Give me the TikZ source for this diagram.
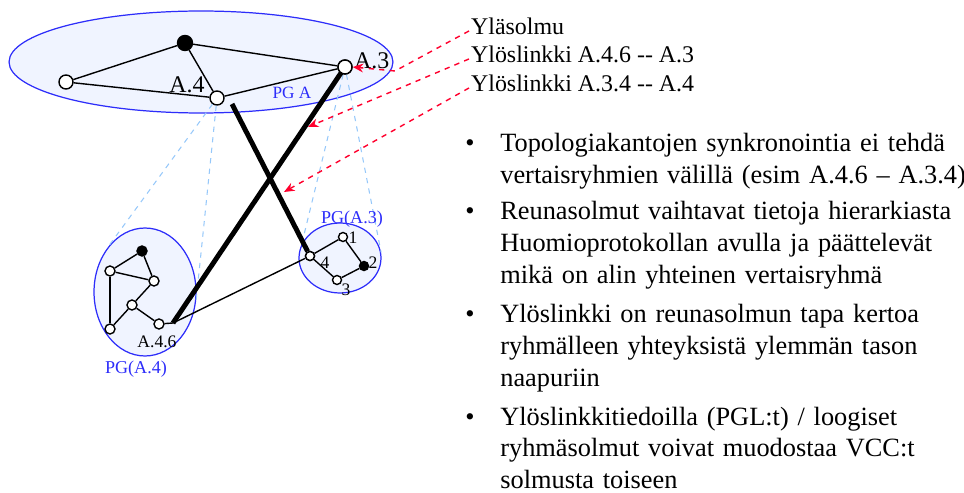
\documentclass[tikz,border=0pt]{standalone}
\usepackage{fontspec}
\setmainfont{Liberation Serif}
\usetikzlibrary{positioning,shapes.geometric,arrows.meta}

\definecolor{pgfill}{RGB}{240,244,255}
\definecolor{pgline}{RGB}{45,45,250}
\definecolor{projline}{RGB}{150,200,250}
\definecolor{notered}{RGB}{255,0,45}

\tikzset{
  pgroup/.style={draw=pgline, fill=pgfill, ellipse, line width=0.7pt, inner sep=0pt},
  wnode/.style={circle, draw, fill=white, line width=0.8pt, inner sep=0pt, minimum size=0.28cm},
  bnode/.style={wnode, fill=black},
  snode/.style={wnode, minimum size=0.2cm},
  sbnode/.style={snode, fill=black},
  link/.style={line width=0.8pt},
  uplink/.style={line width=2.8pt},
  proj/.style={projline, dashed, line width=0.6pt},
  pointer/.style={notered, dashed, line width=0.8pt, -{Stealth[length=6pt,width=5pt]}},
  lbl/.style={font=\fontsize{13.6}{16}\selectfont, inner sep=1pt},
  pglbl/.style={text=pgline, font=\fontsize{10.3}{12}\selectfont, inner sep=1pt},
  smalllbl/.style={font=\fontsize{10}{11}\selectfont, inner sep=1pt},
  itemtext/.style={anchor=base west, text width=9.8cm, align=left, inner sep=0pt,
    font=\fontsize{15}{18.1}\selectfont},
  itemmark/.style={anchor=base, inner sep=0pt, font=\fontsize{15}{18.1}\selectfont}
}

\begin{document}
\begin{tikzpicture}[x=0.02cm, y=-0.02cm]
    \useasboundingbox (0,0) rectangle (964,493);

    % Peer groups
    \node[pgroup, minimum width=7.68cm, minimum height=2.04cm] (pgA) at (201,62) {};
    \node[pgroup, minimum width=2.04cm, minimum height=2.56cm] (pgA4) at (145,292) {};
    \node[pgroup, minimum width=1.64cm, minimum height=1.40cm] (pgA3) at (340,258) {};

    % Top level nodes
    \node[bnode, minimum size=0.3cm] (top) at (185,43) {};
    \node[wnode] (left) at (66,82) {};
    \node[wnode] (a4) at (217,98) {};
    \node[wnode] (a3) at (345,67) {};

    % Projections down to the groups
    \draw[proj] (a4) -- (pgA4.130);
    \draw[proj] (a4) -- (pgA4.348);
    \draw[proj] (a3) -- (pgA3.160);
    \draw[proj] (a3) -- (pgA3.8);

    % PG(A.4) nodes
    \node[sbnode] (b1) at (142,251) {};
    \node[snode] (b2) at (110,271) {};
    \node[snode] (b3) at (154,281) {};
    \node[snode] (b4) at (132,305) {};
    \node[snode] (b5) at (110,329) {};
    \node[snode] (a46) at (159,324) {};
    \coordinate (a46end) at (173,323);

    % PG(A.3) nodes
    \node[snode, minimum size=0.18cm] (p4) at (310,256) {};
    \node[snode, minimum size=0.18cm] (p1) at (343,237) {};
    \node[sbnode, minimum size=0.18cm] (p2) at (364,266) {};
    \node[snode, minimum size=0.18cm] (p3) at (337,280) {};

    % Links
    \draw[link] (top) -- (left);
    \draw[link] (top) -- (a3);
    \draw[link] (top) -- (a4);
    \draw[link] (left) -- (a4);
    \draw[link] (a4) -- (a3);

    \draw[link] (b2) -- (b1);
    \draw[link] (b1) -- (b3);
    \draw[link] (b2) -- (b3);
    \draw[link] (b2) -- (b5);
    \draw[link] (b5) -- (b4);
    \draw[link] (b4) -- (b3);
    \draw[link] (b4) -- (a46);

    \draw[link] (p4) -- (p1);
    \draw[link] (p1) -- (p2);
    \draw[link] (p2) -- (p3);
    \draw[link] (p3) -- (p4);

    \draw[link] (a46) -- (a46end) -- (p4);

    % Uplinks
    \coordinate (a4up) at (232,104);
    \draw[uplink] (a4up) -- (p4);
    \draw[uplink] (a3.center) -- (a46end);
    \node[wnode] at (a3) {};
    \node[snode, minimum size=0.18cm] at (p4) {};

    % Labels
    \node[lbl] (a4lbl) at (187,85) {A.4};
    \node[lbl, anchor=west] (a3lbl) at (352,61) {A.3};
    \node[pglbl, font=\fontsize{9.8}{11}\selectfont] (pgAlbl) at (292,93) {PG A};
    \node[smalllbl] (a46lbl) at (157,342) {A.4.6};
    \node[pglbl] (pgA4lbl) at (136,369) {PG(A.4)};
    \node[pglbl] (pgA3lbl) at (352,219) {PG(A.3)};
    \node[smalllbl] at (353,238) {1};
    \node[smalllbl] at (373,263) {2};
    \node[smalllbl] at (346,290) {3};
    \node[smalllbl] at (325,263) {4};

    % Notes
    \node[lbl, anchor=base west] (ylasolmu) at (469,35) {Yläsolmu};
    \node[lbl, anchor=base west] (upA) at (469,63) {Ylöslinkki A.4.6 -{}- A.3};
    \node[lbl, anchor=base west] (upB) at (469,92) {Ylöslinkki A.3.4 -{}- A.4};

    \coordinate (kink) at (395,71);
    \coordinate (tipA) at (308,127);
    \coordinate (tipB) at (284,192);
    \draw[pointer] (ylasolmu.mid west) -- (kink) -- (a3.east);
    \draw[pointer] (upA.mid west) -- (tipA);
    \draw[pointer] (upB.mid west) -- (tipB);

    % Bullets
    \node[itemtext] (item1) at (500,152) {Topologiakantojen synkronointia ei tehdä\\
      vertaisryhmien välillä (esim A.4.6 -- A.3.4)};
    \node[itemtext] (item2) at (500,220) {Reunasolmut vaihtavat tietoja hierarkiasta\\
      Huomioprotokollan avulla ja päättelevät\\mikä on alin yhteinen vertaisryhmä};
    \node[itemtext] (item3) at (500,323) {Ylöslinkki on reunasolmun tapa kertoa\\
      ryhmälleen yhteyksistä ylemmän tason\\naapuriin};
    \node[itemtext] (item4) at (500,425) {Ylöslinkkitiedoilla (PGL:t) / loogiset\\
      ryhmäsolmut voivat muodostaa VCC:t\\solmusta toiseen};
    \foreach \y in {152,220,323,425}
        \node[itemmark] at (470,\y) {\textbullet};
\end{tikzpicture}
\end{document}
